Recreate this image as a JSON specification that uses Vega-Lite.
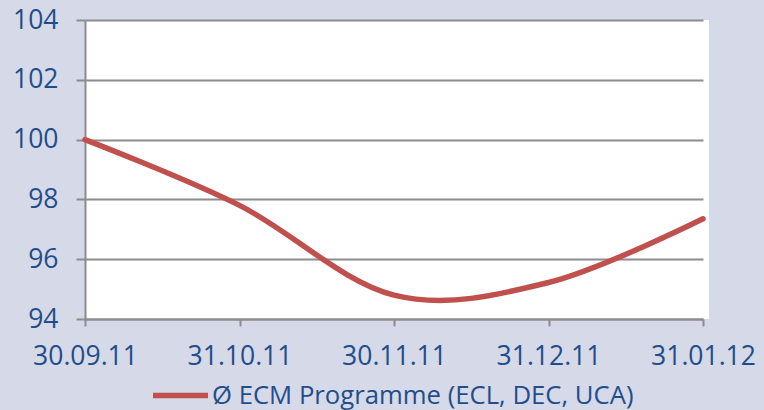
{
  "$schema": "https://vega.github.io/schema/vega-lite/v6.json",
  "width": 624,
  "height": 299,
  "autosize": {"type": "none"},
  "padding": {"left": 85, "top": 20, "right": 55, "bottom": 91},
  "background": "#d6d9e8",
  "view": {"fill": "white", "stroke": null},
  "config": {
    "font": "Open Sans",
    "axis": {"labelFont": "Open Sans", "labelColor": "#1f4e8a", "labelFontSize": 26.5, "domainColor": "#8c8c8c", "domainWidth": 2, "tickColor": "#8c8c8c", "tickWidth": 2, "gridColor": "#8c8c8c", "gridWidth": 2, "title": null}
  },
  "data": {
    "values": [
      {"date": "30.09.11", "value": 100.0, "series": "Ø ECM Programme (ECL, DEC, UCA)"},
      {"date": "31.10.11", "value": 97.8, "series": "Ø ECM Programme (ECL, DEC, UCA)"},
      {"date": "30.11.11", "value": 94.8, "series": "Ø ECM Programme (ECL, DEC, UCA)"},
      {"date": "31.12.11", "value": 95.22, "series": "Ø ECM Programme (ECL, DEC, UCA)"},
      {"date": "31.01.12", "value": 97.35, "series": "Ø ECM Programme (ECL, DEC, UCA)"}
    ]
  },
  "mark": {"type": "line", "interpolate": "cardinal", "tension": 0, "strokeWidth": 5.5, "strokeCap": "round"},
  "encoding": {
    "x": {
      "field": "date", "type": "ordinal", "sort": null,
      "scale": {"type": "point", "range": [0, 618], "padding": 0},
      "axis": {"labelAngle": 0, "tickSize": 7, "labelPadding": 17, "grid": false}
    },
    "y": {
      "field": "value", "type": "quantitative",
      "scale": {"domain": [94, 104], "zero": false, "nice": false},
      "axis": {"values": [94, 96, 98, 100, 102, 104], "tickSize": 9, "labelPadding": 18, "grid": true}
    },
    "color": {
      "field": "series", "type": "nominal",
      "scale": {"range": ["#c0504d"]},
      "legend": {
        "orient": "none", "legendX": 65, "legendY": 345, "title": null, "padding": 0,
        "symbolType": "stroke", "symbolSize": 3025, "symbolStrokeWidth": 5.5,
        "labelFont": "Open Sans", "labelFontSize": 25.7, "labelColor": "#1f4e8a", "labelOffset": 1, "labelLimit": 600
      }
    }
  }
}
